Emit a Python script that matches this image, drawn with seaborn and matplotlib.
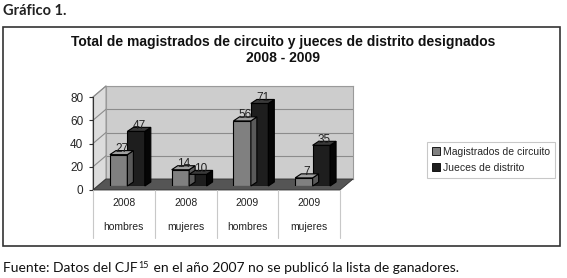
import matplotlib
matplotlib.use("Agg")
import matplotlib.pyplot as plt
import seaborn as sns
import pandas as pd
from matplotlib.patches import Polygon, Rectangle, Patch

sns.set_theme(style="white")
plt.rcParams['font.family'] = ['Liberation Sans', 'DejaVu Sans']

years = ["2008", "2008", "2009", "2009"]
groups = ["hombres", "mujeres", "hombres", "mujeres"]
magistrados = [27, 14, 56, 7]
jueces = [47, 10, 71, 35]
series_names = ["Magistrados de circuito", "Jueces de distrito"]
title = "Total de magistrados de circuito y jueces de distrito designados\n2008 - 2009"
yticks = [0, 20, 40, 60, 80]

cats = [f"{y} {g}" for y, g in zip(years, groups)]
df = pd.DataFrame({
    "cat": cats * 2,
    "serie": [series_names[0]] * 4 + [series_names[1]] * 4,
    "valor": magistrados + jueces,
})

W, H = 567, 278
fig = plt.figure(figsize=(W / 100, H / 100), dpi=100)
fig.patch.set_facecolor("white")

def fx(x):
    return x / W

def fy(y):
    return (H - y) / H

# outer frame
fig.add_artist(Rectangle((fx(3), fy(246)), fx(557), (246 - 27) / H, transform=fig.transFigure,
                         fill=False, edgecolor="#333333", lw=1.2))
fig.text(fx(3), fy(11), "Gráfico 1.", fontsize=10.5, family=["Lato", "DejaVu Sans"],
         fontweight="bold", va="center", ha="left", color="#222222")
fig.text(fx(283), fy(50), title, fontsize=10, fontweight="bold", ha="center", va="center",
         linespacing=1.25, color="#111111")

# footer with superscript
ftxt = fig.text(fx(3), fy(268), "Fuente: Datos del CJF", fontsize=10,
                family=["Lato", "DejaVu Sans"], ha="left", va="center", color="#111111")
fig.canvas.draw()
e1 = ftxt.get_window_extent()
sup = fig.text(e1.x1 / W + 0.5 / W, fy(265), "15", fontsize=6.5,
               family=["Lato", "DejaVu Sans"], ha="left", va="center", color="#111111")
fig.canvas.draw()
e2 = sup.get_window_extent()
fig.text(e2.x1 / W + 1 / W, fy(268), " en el año 2007 no se publicó la lista de ganadores.",
         fontsize=10, family=["Lato", "DejaVu Sans"], ha="left", va="center", color="#111111")

# geometry (pixels)
x0, x1 = 93, 340
yb, yt = 190, 97
dx, dy = 13, 11

# back wall
wall = fig.add_axes([fx(x0 + dx), fy(yb - dy), (x1 - x0) / W, (yb - yt) / H], zorder=0)
wall.set_facecolor("#cdcdcd")
wall.set_ylim(0, 80)
wall.set_xlim(0, 1)
for v in yticks:
    wall.axhline(v, color="#8c8c8c", lw=0.8)
wall.set_xticks([])
wall.set_yticks([])
for s in wall.spines.values():
    s.set_color("#9a9a9a")
    s.set_linewidth(0.8)

# left wall
fig.add_artist(Polygon([(fx(x0), fy(yb)), (fx(x0), fy(yt)), (fx(x0 + dx), fy(yt - dy)),
                        (fx(x0 + dx), fy(yb - dy))], closed=True, transform=fig.transFigure,
                       facecolor="#dcdcdc", edgecolor="#9a9a9a", lw=0.8, zorder=0.5))
for v in yticks:
    yy = yb - (yb - yt) * v / 80
    fig.add_artist(plt.Line2D([fx(x0), fx(x0 + dx)], [fy(yy), fy(yy - dy)],
                              transform=fig.transFigure, color="#8c8c8c", lw=0.8, zorder=0.6))
# floor
fig.add_artist(Polygon([(fx(x0), fy(yb)), (fx(x1), fy(yb)), (fx(x1 + dx), fy(yb - dy)),
                        (fx(x0 + dx), fy(yb - dy))], closed=True, transform=fig.transFigure,
                       facecolor="#555555", edgecolor="#333333", lw=0.6, zorder=0.7))

# front axis (value scale)
ax = fig.add_axes([fx(x0), fy(yb), (x1 - x0) / W, (yb - yt) / H], zorder=1)
ax.patch.set_alpha(0)
ax.set_ylim(0, 80)
ax.set_xlim(-0.5, 3.5)
ax.set_yticks(yticks)
ax.set_yticklabels([str(v) for v in yticks], fontsize=8.5)
ax.set_xticks([])
ax.tick_params(axis="y", length=3, width=0.8, color="#333333", left=True, pad=4)
for k in ["top", "right", "bottom"]:
    ax.spines[k].set_visible(False)
ax.spines["left"].set_color("#333333")
ax.spines["left"].set_linewidth(0.8)

# bars, set in the middle of the floor depth
bx = fig.add_axes([fx(x0 + 3.5), fy(yb - 4), (x1 - x0) / W, (yb - yt) / H], zorder=2)
bx.patch.set_alpha(0)
sns.barplot(data=df, x="cat", y="valor", hue="serie", order=cats, hue_order=series_names,
            palette=["#808080", "#1e1e1e"], width=0.565, gap=0, edgecolor="#000000",
            linewidth=0.8, ax=bx, legend=False, saturation=1)
bx.set_ylim(0, 80)
bx.set_xlim(-0.5, 3.5)
bx.set_axis_off()

bdx, bdy = 6, 4
fig.canvas.draw()
tops = {"#808080": ("#a0a0a0", "#5a5a5a"), "#1e1e1e": ("#3a3a3a", "#050505")}
for p in bx.patches:
    h = p.get_height()
    if h <= 0:
        continue
    bb = p.get_window_extent()
    xa, xb, ya, ybb = bb.x0, bb.x1, bb.y0, bb.y1
    fc = matplotlib.colors.to_hex(p.get_facecolor())
    topc, sidec = tops.get(fc, ("#a0a0a0", "#5a5a5a"))
    top = Polygon([(xa, ybb), (xb, ybb), (xb + bdx, ybb + bdy), (xa + bdx, ybb + bdy)], closed=True,
                  transform=None, facecolor=topc, edgecolor="#000000", lw=0.8, zorder=2.1)
    side = Polygon([(xb, ya), (xb, ybb), (xb + bdx, ybb + bdy), (xb + bdx, ya + bdy)], closed=True,
                   transform=None, facecolor=sidec, edgecolor="#000000", lw=0.8, zorder=2.1)
    fig.add_artist(side)
    fig.add_artist(top)
    fig.text((xa + xb) / 2 / W + 3 / W, (ybb - 0.5) / H, f"{int(round(h))}", fontsize=8.5,
             ha="center", va="bottom", color="#222222", zorder=3)

# category table below
for i in range(5):
    xx = x0 + (x1 - x0) * i / 4
    fig.add_artist(plt.Line2D([fx(xx), fx(xx)], [fy(yb), fy(238)], transform=fig.transFigure,
                              color="#c8c8c8", lw=0.8))
for i, (y, g) in enumerate(zip(years, groups)):
    xc = x0 + (x1 - x0) * (i + 0.5) / 4
    fig.text(fx(xc), fy(203), y, fontsize=7.5, ha="center", va="center", color="#222222")
    fig.text(fx(xc), fy(227), g, fontsize=7.5, ha="center", va="center", color="#222222")

# legend
handles = [Patch(facecolor="#808080", edgecolor="#000000", lw=0.6),
           Patch(facecolor="#1e1e1e", edgecolor="#000000", lw=0.6)]
leg = fig.legend(handles, series_names, loc="upper left", bbox_to_anchor=(fx(427), fy(142)),
                 fontsize=7.5, frameon=True, handlelength=0.8, handleheight=0.8, handletextpad=0.3,
                 borderpad=0.45, labelspacing=0.6, fancybox=False, borderaxespad=0)
leg.get_frame().set_edgecolor("#bbbbbb")
leg.get_frame().set_linewidth(0.8)

fig.savefig("out.png", dpi=100)
